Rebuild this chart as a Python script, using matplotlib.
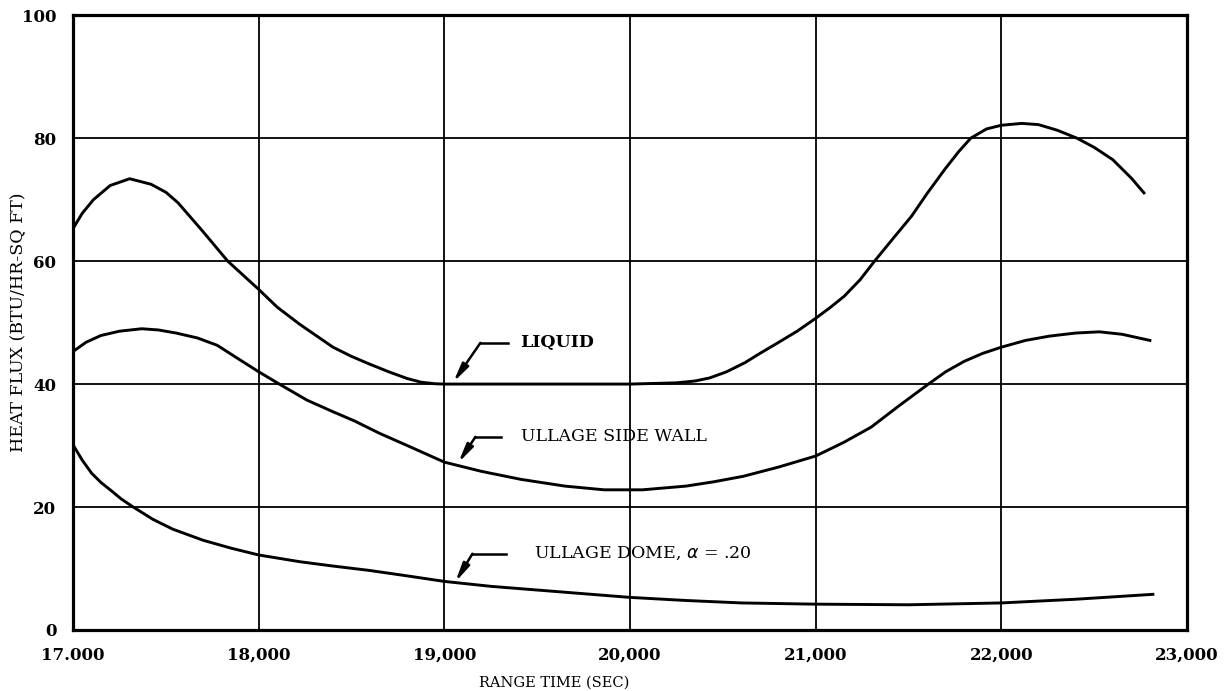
import matplotlib.pyplot as plt

# range time (sec) vs heat flux
liquid_t = [17000, 17050, 17110, 17200, 17305, 17420, 17500, 17565, 17700, 17833, 18000,
            18100, 18222, 18400, 18500, 18593, 18700, 18800, 18875, 18950, 19000, 19500,
            20000, 20250, 20350, 20429, 20520, 20620, 20700, 20790, 20900, 21000, 21080,
            21154, 21240, 21317, 21420, 21516, 21600, 21697, 21770, 21835, 21920, 22000,
            22110, 22200, 22300, 22407, 22500, 22600, 22700, 22768]
liquid_q = [65.3, 67.8, 70.0, 72.3, 73.4, 72.5, 71.2, 69.5, 64.8, 60.0, 55.4,
            52.5, 49.7, 46.0, 44.5, 43.3, 42.0, 40.9, 40.3, 40.05, 40.0, 40.0,
            40.0, 40.2, 40.5, 41.0, 42.0, 43.5, 45.0, 46.6, 48.6, 50.7, 52.5,
            54.3, 57.0, 60.0, 63.8, 67.3, 71.0, 75.0, 77.8, 80.0, 81.5, 82.1,
            82.4, 82.2, 81.3, 80.0, 78.5, 76.5, 73.5, 71.1]

wall_t = [17000, 17070, 17150, 17250, 17370, 17460, 17555, 17670, 17777, 17880, 18000,
          18111, 18259, 18400, 18516, 18650, 18800, 19000, 19200, 19412, 19650, 19860,
          20067, 20300, 20450, 20610, 20800, 21000, 21150, 21299, 21450, 21607, 21700,
          21800, 21900, 22000, 22130, 22259, 22400, 22527, 22650, 22800]
wall_q = [45.3, 46.8, 47.9, 48.6, 49.0, 48.8, 48.3, 47.5, 46.3, 44.3, 42.0,
          40.0, 37.4, 35.5, 34.0, 32.0, 30.0, 27.3, 25.8, 24.5, 23.4, 22.8,
          22.8, 23.4, 24.1, 25.0, 26.5, 28.3, 30.5, 33.0, 36.5, 40.0, 42.0,
          43.7, 45.0, 46.0, 47.1, 47.8, 48.3, 48.5, 48.1, 47.1]

dome_t = [17000, 17050, 17100, 17150, 17204, 17260, 17324, 17430, 17537, 17700, 17852,
          18000, 18222, 18400, 18593, 18800, 19000, 19250, 19500, 19750, 20000, 20300,
          20600, 21000, 21500, 22000, 22400, 22816]
dome_q = [30.1, 27.6, 25.5, 24.0, 22.7, 21.3, 20.0, 18.0, 16.4, 14.6, 13.3,
          12.2, 11.1, 10.4, 9.7, 8.8, 7.9, 7.1, 6.5, 5.9, 5.3, 4.8,
          4.4, 4.2, 4.1, 4.4, 5.0, 5.8]

xticks = [17000, 18000, 19000, 20000, 21000, 22000, 23000]
xlabels = ['17.000', '18,000', '19,000', '20,000', '21,000', '22,000', '23,000']
yticks = [0, 20, 40, 60, 80, 100]

fig = plt.figure(figsize=(12.32, 6.91), dpi=100)
ax = fig.add_axes([0.0593, 0.0883, 0.9042, 0.8897])

for t, q in [(liquid_t, liquid_q), (wall_t, wall_q), (dome_t, dome_q)]:
    ax.plot(t, q, color='black', lw=2.1, solid_joinstyle='round', zorder=3)

ax.set_xlim(17000, 23000)
ax.set_ylim(0, 100)
ax.set_xticks(xticks)
ax.set_xticklabels(xlabels)
ax.set_yticks(yticks)
ax.grid(True, color='black', lw=1.3)
ax.tick_params(length=0, pad=12, labelsize=12)
for lab in ax.get_xticklabels() + ax.get_yticklabels():
    lab.set_family('DejaVu Serif')
    lab.set_fontweight('bold')
for s in ax.spines.values():
    s.set_linewidth(2.3)

ax.set_xlabel('RANGE TIME (SEC)', family='DejaVu Serif', fontsize=10.5)
ax.xaxis.set_label_coords(0.432, -0.075)
ax.set_ylabel('HEAT FLUX (BTU/HR-SQ FT)', family='DejaVu Serif', fontsize=12.5)
ax.yaxis.set_label_coords(-0.041, 0.5)

# leader lines with arrows
labels = [
    ('LIQUID', (19048, 40.3), (19194, 46.7), 19345, 19410, 'bold'),
    ('ULLAGE SIDE WALL', (19075, 27.2), (19167, 31.4), 19307, 19410, 'normal'),
    ('ULLAGE DOME, $\\alpha$ = .20', (19059, 7.8), (19151, 12.4), 19334, 19485, 'normal'),
]
for txt, tip, bend, end, tx, fw in labels:
    ax.plot([bend[0], end], [bend[1], bend[1]], color='black', lw=1.8)
    ax.annotate('', xy=tip, xytext=bend,
                arrowprops=dict(arrowstyle='-|>,head_width=0.22,head_length=1.1',
                                color='black', lw=1.8, shrinkA=0, shrinkB=0))
    ax.text(tx, bend[1], txt, family='DejaVu Serif', fontsize=12.5,
            fontweight=fw, va='center', ha='left')

fig.savefig('out.png', dpi=100)
